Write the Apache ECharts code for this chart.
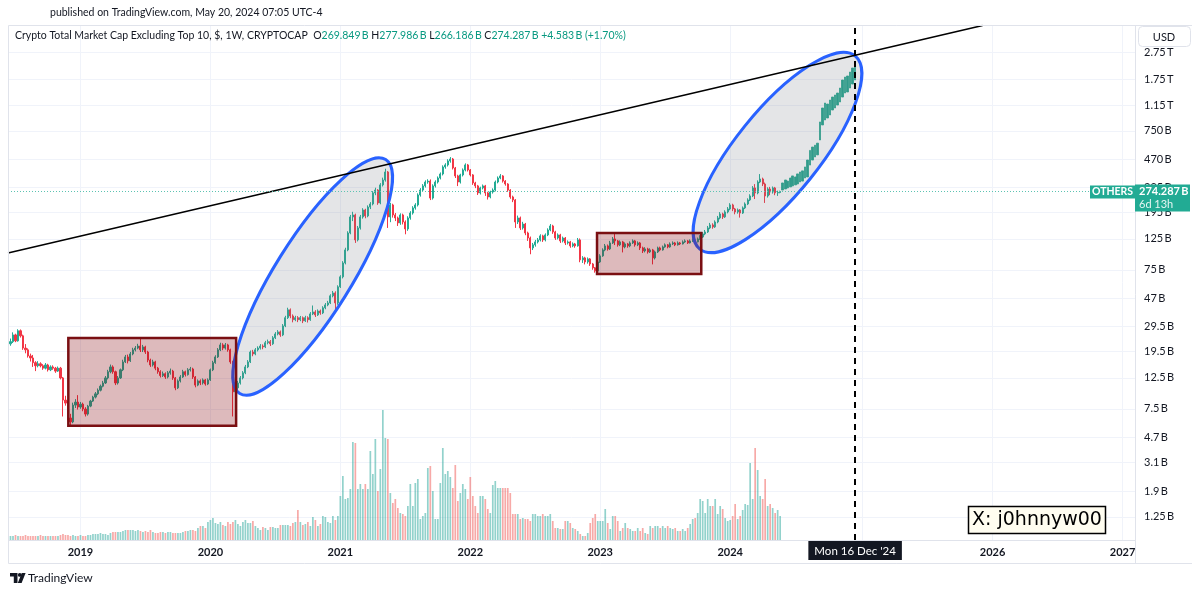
<!DOCTYPE html>
<html>
<head>
<meta charset="utf-8">
<script src="https://cdn.jsdelivr.net/npm/echarts@6.0.0/dist/echarts.min.js"></script>
<style>
  html, body { margin:0; padding:0; background:#fff; }
  #chart { width:1200px; height:593px; }
</style>
</head>
<body>
<div id="chart"></div>
<script>
/* OTHERS (Crypto Total Market Cap Excluding Top 10), weekly, log scale – values in billions USD */

const firstWeek = '2018-06-25';
const firstOpen = 22.0;

// weekly closes, 2018-06-25 .. 2024-05-20
const closes = [
  22.8, 25.5, 23.1, 27.3, 25.1, 20.5, 19.9, 18.0, 17.4, 16.1,
  15.3, 15.8, 15.3, 14.7, 15.5, 14.3, 15.0, 14.7, 14.0, 14.7,
  12.5, 8.66, 8.24, 6.44, 6.03, 7.97, 8.38, 7.72, 8.1, 7.47,
  6.87, 7.84, 8.52, 9.1, 9.6, 10.2, 10.9, 11.5, 12.5, 13.85,
  15.0, 13.85, 11.5, 12.5, 14.3, 16.3, 17.7, 16.6, 18.6, 19.9,
  20.5, 21.2, 19.9, 20.9, 19.2, 16.8, 15.5, 16.3, 14.7, 13.85,
  13.0, 13.4, 12.7, 13.6, 14.0, 12.5, 10.6, 11.9, 12.7, 13.85,
  13.2, 14.3, 14.5, 12.7, 11.1, 11.9, 11.5, 12.1, 11.3, 12.1,
  14.3, 16.1, 17.7, 19.9, 21.6, 20.5, 21.6, 19.9, 16.3, 9.93,
  10.6, 11.5, 12.5, 13.6, 15.0, 16.3, 19.2, 18.6, 19.9, 20.5,
  21.2, 20.9, 22.4, 22.8, 22.0, 24.3, 25.9, 26.8, 25.5, 29.6,
  33.9, 38.6, 34.9, 32.8, 33.9, 32.8, 33.9, 32.2, 33.9, 32.8,
  36.1, 37.3, 35.5, 37.9, 36.7, 39.9, 41.9, 43.3, 48.7, 51.1,
  43.3, 56.5, 66.7, 84.0, 104.2, 138, 180, 186, 123, 150,
  180, 202, 183, 212, 223, 268, 281, 227, 306, 332,
  379, 180, 219.5, 186, 177, 163, 186, 165.6, 147.5, 177,
  192, 209, 219.5, 259, 281, 301, 321, 326, 246, 301,
  321, 343, 366.6, 412, 426, 455, 470, 405, 355, 321,
  360.7, 392, 426, 392, 361, 316, 301, 268, 291, 301,
  268, 250.6, 272, 281, 321, 343, 355, 326, 310.7, 281,
  250.6, 238.5, 165.6, 177, 150, 160, 138, 127, 107.7, 113.3,
  119, 123, 131.5, 123, 133.6, 145, 155, 140.4, 127, 133.6,
  121, 127, 117, 119, 111.4, 115.1, 111.4, 123, 88.4, 91.3,
  85.4, 89.8, 82.6, 77.4, 73.7, 85.4, 94.4, 104.2, 111.4, 105.9,
  117, 125, 121, 113.3, 119, 109.5, 115.1, 111.4, 117, 121,
  113.3, 117, 107.7, 102.5, 105.9, 100.8, 104.2, 91.3, 100.8, 107.7,
  104.2, 109.5, 113.3, 109.5, 115.1, 117, 113.3, 117, 115.1, 119,
  121, 117, 121, 123, 119, 125, 129, 135.8, 140.4, 150,
  157.6, 152.5, 165.6, 177, 189.1, 180, 195.5, 205.4, 219.5, 205.4,
  195.5, 202, 192, 209, 223.1, 238.5, 254.8, 291, 268, 321,
  337.5, 310.7, 254.8, 286, 272, 291, 268, 269.849, 274.287
];

const lows = [
  21.3, 22.3, 22.6, 22.8, 24.4, 19.9, 18.8, 17.5, 16.4, 15.0,
  14.0, 14.9, 14.9, 14.3, 14.4, 13.9, 14.0, 14.3, 13.6, 13.8,
  12.2, 6.6, 7.9, 6.2, 5.7, 5.9, 7.6, 7.4, 7.5, 7.2,
  6.6, 6.7, 7.7, 8.4, 8.9, 9.4, 10.0, 10.7, 11.3, 12.2,
  13.5, 13.4, 11.1, 11.2, 12.3, 14.0, 16.0, 15.9, 16.3, 18.2,
  19.4, 20.1, 19.2, 19.2, 18.6, 16.2, 15.0, 15.1, 14.2, 13.4,
  12.6, 12.7, 12.3, 12.4, 13.2, 12.1, 10.2, 10.4, 11.6, 12.5,
  12.8, 13.0, 13.9, 12.3, 10.7, 10.9, 11.1, 11.2, 11.0, 11.1,
  11.9, 14.0, 15.8, 17.4, 19.5, 19.8, 20.0, 19.3, 15.8, 6.6,
  9.0, 10.2, 11.2, 12.2, 13.3, 14.7, 16.0, 17.9, 18.2, 19.4,
  20.0, 20.1, 20.5, 21.8, 21.2, 21.6, 23.8, 25.3, 24.7, 25.0,
  29.0, 33.2, 33.6, 31.4, 32.0, 31.5, 32.0, 31.0, 31.6, 31.3,
  32.2, 35.4, 34.3, 34.9, 35.6, 36.0, 39.0, 41.0, 42.5, 47.5,
  36.7, 42.0, 55.5, 65.0, 82.0, 102, 135, 168, 117, 120,
  146, 175, 176, 179, 205, 218, 258, 220, 222, 298,
  323, 150, 165, 178, 168, 155, 158, 159, 135, 143,
  172, 187, 203, 214, 252, 273, 293, 312, 238, 240,
  293, 313, 335, 358, 400, 415, 442, 395, 343, 300,
  313, 352, 383, 382, 352, 306, 290, 259, 261, 284,
  255, 240, 245, 265, 275, 314, 336, 318, 302, 273,
  243, 230, 150, 160, 145, 146, 133, 121, 97, 104,
  110, 116, 120, 119, 120, 131, 142, 136, 123, 124,
  117, 118, 113, 114, 108, 109, 108, 110, 85, 84,
  82, 83, 80, 75, 71.5, 72, 84, 93, 102, 103,
  104, 115, 113, 110, 111, 100, 107, 108, 109, 115,
  110, 111, 104, 99, 100, 98, 99, 82, 89, 99,
  102, 103, 108, 107, 108, 113, 111, 112, 113, 114,
  117, 115, 116, 119, 117, 118, 123, 127, 133, 138,
  147, 148, 150, 162, 173, 174, 177, 191, 201, 198,
  188, 190, 178, 189, 205, 219, 234, 250, 242, 262,
  315, 300, 227, 248, 258, 265, 258, 255, 266.186
];

const highs = [
  24.0, 26.6, 26.0, 28.0, 27.9, 25.6, 21.9, 20.4, 18.7, 18.3,
  16.5, 16.5, 16.2, 15.7, 16.0, 15.8, 15.4, 15.4, 15.0, 15.1,
  15.0, 12.7, 9.3, 8.5, 6.9, 8.3, 8.8, 9.4, 8.4, 8.3,
  7.7, 8.0, 8.7, 9.3, 9.9, 10.5, 11.2, 11.9, 12.9, 14.3,
  15.6, 15.4, 14.1, 12.9, 14.6, 16.9, 18.3, 18.4, 19.2, 20.6,
  21.2, 22.0, 24.5, 21.6, 21.3, 19.6, 17.2, 16.9, 16.6, 15.0,
  14.2, 13.9, 13.7, 14.0, 14.6, 14.3, 12.7, 12.2, 13.1, 14.3,
  14.1, 14.7, 15.0, 14.8, 12.9, 12.2, 12.2, 12.4, 12.3, 12.4,
  14.6, 16.6, 18.2, 20.5, 22.4, 22.2, 22.3, 22.0, 20.3, 16.6,
  11.3, 11.9, 12.9, 14.0, 15.5, 16.8, 19.7, 19.9, 20.5, 21.1,
  21.9, 21.8, 23.1, 23.6, 23.4, 25.0, 26.7, 27.6, 27.4, 30.5,
  35.0, 40.0, 39.5, 35.8, 35.0, 34.8, 34.9, 34.6, 35.0, 34.7,
  37.2, 41.5, 38.4, 38.9, 38.8, 41.0, 43.2, 44.8, 50.0, 52.8,
  52.5, 58.0, 68.5, 86.5, 108, 142, 186, 196, 190, 155,
  186, 208, 206, 218, 230, 276, 292, 285, 315, 345,
  400, 385, 227, 224, 192, 181, 191, 190, 170, 182,
  198, 215, 226, 266, 290, 310, 330, 336, 335, 309,
  330, 352, 376, 423, 438, 468, 485, 478, 412, 362,
  368, 402, 437, 433, 398, 366, 322, 306, 297, 308,
  306, 273, 278, 289, 329, 352, 366, 360, 331, 315,
  285, 256, 242, 184, 181, 166, 163, 141, 130, 117,
  123, 127, 135, 134, 137, 149, 160, 158, 143, 137,
  136, 130, 129, 122, 121, 118, 117, 127, 126, 94,
  93, 92, 91, 84, 78.5, 87, 97, 107, 115, 114,
  121, 129, 136, 123, 122, 121, 118, 117, 120, 124,
  123, 120, 119, 110, 109, 108, 107, 106, 103, 110,
  110, 112, 116, 115, 118, 120, 119, 120, 119, 122,
  124, 123, 124, 126, 125, 128, 133, 140, 145, 155,
  163, 162, 170, 183, 195, 193, 201, 212, 226, 224,
  209, 207, 205, 214, 229, 245, 262, 300, 310, 330,
  366, 345, 318, 294, 296, 298, 296, 278, 277.986
];

// weekly volume (overlay, own scale)
const volumes = [
  4, 4, 5, 4, 4, 4, 5, 4, 4, 4,
  4, 4, 5, 4, 4, 4, 4, 4, 4, 4,
  5, 6, 5, 5, 4, 5, 4, 4, 5, 4,
  4, 5, 5, 6, 6, 6, 7, 6, 6, 5,
  7, 8, 8, 8, 8, 9, 10, 10, 10, 10,
  9, 10, 9, 8, 9, 8, 10, 8, 7, 7,
  8, 8, 7, 8, 8, 7, 7, 7, 7, 8,
  9, 9, 10, 10, 9, 12, 14, 14, 12, 18,
  20, 22, 17, 16, 18, 15, 14, 18, 16, 18,
  20, 16, 14, 18, 20, 17, 17, 19, 14, 12,
  10, 13, 12, 10, 13, 13, 12, 12, 15, 15,
  15, 15, 14, 17, 18, 30, 18, 15, 16, 18,
  14, 23, 20, 14, 16, 24, 23, 18, 17, 24,
  20, 24, 44, 64, 41, 42, 51, 98, 97, 51,
  56, 51, 56, 51, 89, 66, 101, 49, 71, 130,
  102, 101, 47, 37, 41, 32, 27, 26, 24, 34,
  56, 34, 57, 61, 21, 24, 27, 72, 74, 49,
  21, 21, 57, 92, 66, 69, 63, 52, 75, 39,
  47, 56, 51, 41, 63, 44, 34, 27, 44, 44,
  41, 31, 27, 55, 59, 52, 52, 52, 52, 52,
  47, 26, 26, 26, 21, 22, 21, 21, 19, 26,
  26, 24, 24, 26, 24, 24, 26, 19, 12, 12,
  11, 11, 19, 19, 17, 12, 11, 9, 6, 4,
  4, 7, 17, 22, 26, 19, 19, 19, 31, 17,
  11, 24, 24, 19, 9, 12, 17, 12, 11, 9,
  9, 12, 9, 12, 7, 6, 14, 12, 14, 14,
  12, 14, 12, 14, 12, 11, 12, 9, 9, 11,
  9, 12, 16, 21, 22, 27, 41, 39, 27, 41,
  34, 34, 41, 26, 34, 31, 22, 19, 20, 24,
  36, 21, 24, 30, 36, 35, 77, 41, 92, 70,
  44, 41, 61, 34, 36, 32, 27, 30, 24
];

// projected bars (bars pattern) 2024-05-27 .. 2024-12-16
const projLows = [
  281, 286, 291, 296, 301, 306, 311, 321, 326, 343,
  349, 425, 462, 486, 503, 644, 826, 897, 927, 974,
  1058, 1094, 1149, 1208, 1312, 1402, 1426, 1523, 1627, 1739
];
const projHighs = [
  316, 332, 326, 343, 355, 349, 367, 379, 386, 412,
  462, 542, 573, 591, 611, 868, 1094, 1188, 1168, 1249,
  1312, 1357, 1402, 1523, 1739, 1827, 1859, 1985, 2121, 2230
];

const lastBar = { o: '269.849', h: '277.986', l: '266.186', c: '274.287', chg: '+4.583', pct: '+1.70%' };
const lastClose = 274.287;

// axes
const priceTicks = [2750, 1750, 1150, 750, 470, 295, 195, 125, 75, 47, 29.5, 19.5, 12.5, 7.5, 4.7, 3.1, 1.9, 1.25];
const yearTicks = ['2019-01-07', '2020-01-06', '2021-01-04', '2022-01-03', '2023-01-02', '2024-01-01', '2025-01-06', '2026-01-05', '2027-01-04'];
const yearLabelTicks = ['2019-01-07', '2020-01-06', '2021-01-04', '2022-01-03', '2023-01-02', '2024-01-01', '2026-01-05', '2027-01-04'];
const viewStart = '2018-06-18';
const viewEnd = '2027-02-08';
const priceMin = 0.853;
const priceMax = 4326;
const volMax = 515;

// drawings
const trendLine = [['2018-06-18', 99], ['2025-12-08', 4290]];
const boxes = [
  { from: '2018-12-04', to: '2020-03-18', top: 24.2, bottom: 5.66 },
  { from: '2022-12-24', to: '2023-10-12', top: 137.9, bottom: 69.8 }
];
const ellipses = [
  { from: '2020-03-28', fromValue: 9.66, to: '2021-05-11', toValue: 466 },
  { from: '2023-10-08', fromValue: 105.7, to: '2024-12-16', toValue: 2593 }
];
const ELLIPSE_RY = [38, 42];
const markDate = '2024-12-16';

// ---------------------------------------------------------------
[['highs', highs], ['lows', lows], ['volumes', volumes]].forEach(([n, a]) => {
  if (a.length !== closes.length) throw new Error(n + ' has ' + a.length + ' items, closes has ' + closes.length);
});

const UP = '#22ab94', DOWN = '#f23645';
const VOL_UP = 'rgba(38,166,154,0.5)', VOL_DOWN = 'rgba(239,83,80,0.5)';
const UI_FONT = 'Lato, "Open Sans", sans-serif';
const ts = s => Date.parse(s + 'T00:00:00Z');
const WEEK = 7 * 864e5;
const t0 = ts(firstWeek);

const candleData = closes.map((c, i) => {
  const o = i === 0 ? firstOpen : closes[i - 1];
  return [t0 + i * WEEK, o, c, lows[i], highs[i]];
});
const volData = volumes.map((v, i) => {
  const up = candleData[i][2] >= candleData[i][1];
  return { value: [t0 + i * WEEK, v], itemStyle: { color: up ? VOL_UP : VOL_DOWN } };
});
const projData = projLows.map((lo, j) => [t0 + (closes.length + j) * WEEK, lo, projHighs[j], lo, projHighs[j]]);

const fmtPrice = v => (v >= 1000 ? +(v / 1000).toFixed(2) + '\u2009T' : v + '\u2009B');

const chart = echarts.init(document.getElementById('chart'));

const option = {
  animation: false,
  backgroundColor: '#ffffff',
  grid: { left: 8, right: 65, top: 25, bottom: 53 },
  xAxis: {
    // timestamps on a plain value axis so the year ticks can be placed exactly
    type: 'value',
    min: ts(viewStart),
    max: ts(viewEnd),
    axisLine: { show: false },
    axisTick: { show: false, customValues: yearTicks.map(ts) },
    splitLine: { show: true, lineStyle: { color: '#f0f3fa', width: 1 } },
    axisLabel: {
      customValues: yearLabelTicks.map(ts),
      formatter: v => String(new Date(v).getUTCFullYear()),
      color: '#131722', fontSize: 11, fontWeight: 'bold', fontFamily: UI_FONT,
      margin: 7, hideOverlap: false
    }
  },
  yAxis: [
    {
      type: 'log', logBase: 10, min: priceMin, max: priceMax, position: 'right',
      axisLine: { show: false },
      axisTick: { show: false, customValues: priceTicks },
      splitLine: { show: true, lineStyle: { color: '#f0f3fa', width: 1 } },
      axisLabel: {
        customValues: priceTicks, formatter: fmtPrice,
        color: '#131722', fontSize: 11, fontFamily: UI_FONT, margin: 9, hideOverlap: false
      }
    },
    { type: 'value', min: 0, max: volMax, show: false, splitLine: { show: false } }
  ],
  series: [
    {
      type: 'bar', name: 'Volume', yAxisIndex: 1, data: volData,
      barWidth: 1.7, z: 1, silent: true
    },
    {
      type: 'candlestick', name: 'OTHERS', data: candleData,
      encode: { x: 0, y: [1, 2, 3, 4] },
      barWidth: 1.6, z: 2, silent: true,
      itemStyle: { color: UP, color0: DOWN, borderColor: UP, borderColor0: DOWN, borderWidth: 1 },
      markLine: {
        silent: true, symbol: ['none', 'none'], label: { show: false },
        lineStyle: { color: '#5cc3b2', type: [1, 2], width: 1 },
        data: [{ yAxis: lastClose }]
      }
    },
    {
      type: 'candlestick', name: 'Projection', data: projData,
      encode: { x: 0, y: [1, 2, 3, 4] },
      barWidth: 2.2, z: 2, silent: true,
      itemStyle: { color: '#1fa38c', color0: '#1fa38c', borderColor: '#1fa38c', borderColor0: '#1fa38c', borderWidth: 0.8 }
    },
    {
      type: 'custom', name: 'Ellipses', z: 3, clip: false, silent: true,
      data: ellipses.map(e => [ts(e.from), e.fromValue, ts(e.to), e.toValue]),
      encode: { x: [0, 2], y: [1, 3] },
      renderItem: (params, api) => {
        const p1 = api.coord([api.value(0), api.value(1)]);
        const p2 = api.coord([api.value(2), api.value(3)]);
        const dx = p2[0] - p1[0], dy = p2[1] - p1[1];
        return {
          type: 'ellipse',
          x: (p1[0] + p2[0]) / 2, y: (p1[1] + p2[1]) / 2,
          rotation: Math.atan2(-dy, dx),
          shape: { cx: 0, cy: 0, rx: Math.hypot(dx, dy) / 2, ry: ELLIPSE_RY[params.dataIndex] },
          style: { fill: 'rgba(120,123,134,0.2)', stroke: '#2962ff', lineWidth: 3 }
        };
      }
    },
    {
      type: 'line', name: 'Trend', z: 4, silent: true,
      data: trendLine.map(p => [ts(p[0]), p[1]]),
      symbol: 'none', lineStyle: { color: '#000', width: 1.5 },
      markArea: {
        z: 5, silent: true,
        itemStyle: { color: 'rgba(128,0,8,0.27)', borderColor: '#7a0f12', borderWidth: 2.5 },
        data: boxes.map(b => [{ coord: [ts(b.from), b.top] }, { coord: [ts(b.to), b.bottom] }])
      },
      markLine: {
        z: 6, silent: true, symbol: ['none', 'none'],
        lineStyle: { color: '#000', width: 2, type: [6, 5] },
        label: {
          show: true, position: 'start', formatter: "Mon 16 Dec '24",
          color: '#fff', backgroundColor: '#131722', padding: [4, 6, 3, 6],
          fontSize: 11.5, fontFamily: UI_FONT, distance: 1
        },
        data: [{ xAxis: ts(markDate) }]
      }
    }
  ]
};

chart.setOption(option);

// labels that follow the last price
const py = chart.convertToPixel({ yAxisIndex: 0 }, lastClose);

const graphics = [
  // frame and scale separators
  { type: 'line', shape: { x1: 8.5, y1: 25.5, x2: 1192, y2: 25.5 }, style: { stroke: '#e0e3eb', lineWidth: 1 }, z: 50 },
  { type: 'line', shape: { x1: 8.5, y1: 25.5, x2: 8.5, y2: 563.5 }, style: { stroke: '#e0e3eb', lineWidth: 1 }, z: 50 },
  { type: 'line', shape: { x1: 8.5, y1: 563.5, x2: 1192, y2: 563.5 }, style: { stroke: '#e0e3eb', lineWidth: 1 }, z: 50 },
  { type: 'line', shape: { x1: 1135.5, y1: 25.5, x2: 1135.5, y2: 563.5 }, style: { stroke: '#e0e3eb', lineWidth: 1 }, z: 50 },
  { type: 'line', shape: { x1: 8.5, y1: 540.5, x2: 1135.5, y2: 540.5 }, style: { stroke: '#e0e3eb', lineWidth: 1 }, z: 50 },
  // header
  { type: 'text', x: 50, y: 13, z: 50, style: { text: 'published on TradingView.com, May 20, 2024 07:05 UTC-4', fill: '#131722', font: '10.5px ' + UI_FONT, verticalAlign: 'middle' } },
  {
    type: 'text', x: 15, y: 36, z: 50,
    style: {
      text: '{t|Crypto Total Market Cap Excluding Top 10, $, 1W, CRYPTOCAP}  {k|O}{v|' + lastBar.o + '\u2009B} {k|H}{v|' + lastBar.h +
        '\u2009B} {k|L}{v|' + lastBar.l + '\u2009B} {k|C}{v|' + lastBar.c + '\u2009B} {v|' + lastBar.chg + '\u2009B (' + lastBar.pct + ')}',
      verticalAlign: 'middle', font: '10.5px ' + UI_FONT,
      rich: {
        t: { fill: '#131722', fontSize: 10.5, fontFamily: UI_FONT },
        k: { fill: '#131722', fontSize: 10.5, fontFamily: UI_FONT },
        v: { fill: '#089981', fontSize: 10.5, fontFamily: UI_FONT }
      }
    }
  },
  // currency box
  { type: 'rect', shape: { x: 1138.5, y: 26.5, width: 52, height: 20, r: 4 }, style: { fill: '#fff', stroke: '#e0e3eb', lineWidth: 1 }, z: 60 },
  { type: 'text', x: 1164, y: 37, z: 61, style: { text: 'USD', fill: '#131722', font: '11px ' + UI_FONT, align: 'center', verticalAlign: 'middle' } },
  // symbol label + price box
  { type: 'rect', shape: { x: 1090, y: py - 6, width: 45, height: 13 }, style: { fill: UP }, z: 60 },
  { type: 'text', x: 1112.5, y: py + 0.5, z: 61, style: { text: 'OTHERS', fill: '#fff', font: 'bold 10.5px ' + UI_FONT, align: 'center', verticalAlign: 'middle' } },
  { type: 'rect', shape: { x: 1135, y: py - 7, width: 55, height: 27 }, style: { fill: UP }, z: 60 },
  { type: 'text', x: 1139, y: py, z: 61, style: { text: '274.287\u2009B', fill: '#fff', font: 'bold 11px ' + UI_FONT, verticalAlign: 'middle' } },
  { type: 'text', x: 1139, y: py + 13, z: 61, style: { text: '6d 13h', fill: '#e6f5f2', font: '11px ' + UI_FONT, verticalAlign: 'middle' } },
  // author note
  { type: 'rect', shape: { x: 968.5, y: 506.5, width: 137, height: 27 }, style: { fill: '#fffdf0', stroke: '#000', lineWidth: 1.5 }, z: 60 },
  { type: 'text', x: 1037, y: 520.5, z: 61, style: { text: 'X: j0hnnyw00', fill: '#000', font: '19px "DejaVu Sans", sans-serif', align: 'center', verticalAlign: 'middle' } },
  // TradingView footer logo
  { type: 'polygon', shape: { points: [[10, 573], [17.5, 573], [17.5, 583], [13.8, 583], [13.8, 576.5], [10, 576.5]] }, style: { fill: '#131722' }, z: 60 },
  { type: 'circle', shape: { cx: 19.8, cy: 574.9, r: 1.9 }, style: { fill: '#131722' }, z: 60 },
  { type: 'polygon', shape: { points: [[21.8, 573], [25.6, 573], [21.6, 583], [17.8, 583]] }, style: { fill: '#131722' }, z: 60 },
  { type: 'text', x: 28, y: 578.5, z: 60, style: { text: 'TradingView', fill: '#131722', font: '12px ' + UI_FONT, verticalAlign: 'middle' } }
];

chart.setOption({ graphic: { elements: graphics } });
</script>
</body>
</html>
